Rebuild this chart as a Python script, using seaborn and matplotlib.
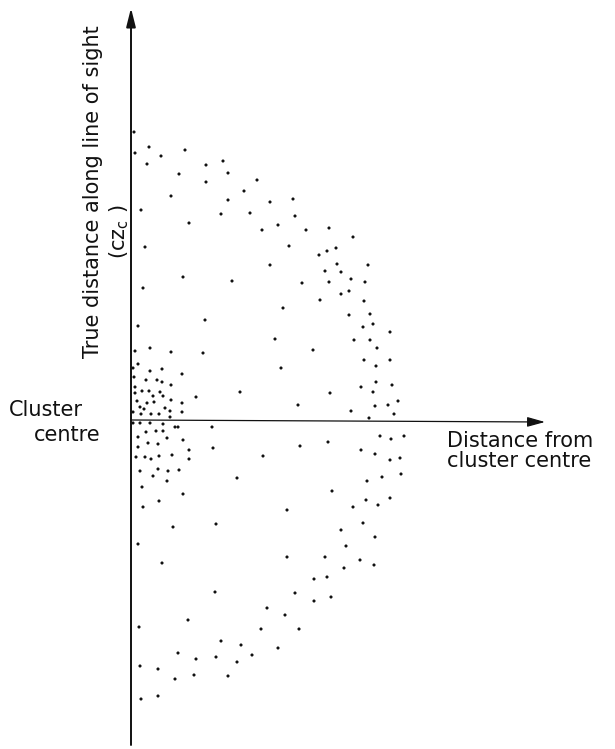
import matplotlib
matplotlib.use("Agg")
import matplotlib.pyplot as plt
import seaborn as sns
import pandas as pd

# Galaxy positions relative to the cluster centre
# (x = projected distance from centre, y = true distance along line of sight)
proj_dist = [
    # outer shell, in front of the centre
    3, 4, 18, 16, 30, 54, 48, 75, 92, 75, 97, 40, 126, 113, 97, 139, 162,
    10, 90, 119, 164, 58, 147, 131, 175, 198, 222, 14, 158, 188, 196, 205,
    139, 206, 237, 194, 210, 52, 101, 171, 198, 220, 234, 12, 210, 218, 189,
    233, 152, 218, 239, 74, 7, 232, 242, 259, 144, 223, 239, 4, 19, 40, 72,
    182, 246, 7, 233, 259, 51, 150, 245, 230, 245, 261, 109, 65, 199, 242,
    167, 220, 244, 257, 267, 263, 238,
    # core, in front
    19, 31, 15, 26, 31, 40, 2, 3, 11, 18, 22, 29, 32, 4, 4, 6, 16, 23, 40,
    51, 9, 13, 34, 51, 10, 20, 28, 39, 39, 2,
    # core, behind
    2, 9, 19, 32, 44, 47, 81, 7, 15, 25, 32, 17, 27, 36, 52, 7, 58, 82, 5,
    14, 20, 28, 41, 58, 9, 22, 27, 37, 48, 36, 11, 52, 12, 28,
    # outer shell, behind the centre
    132, 169, 197, 249, 260, 273, 230, 244, 259, 269, 106, 236, 251, 270,
    156, 201, 222, 235, 247, 259, 42, 85, 210, 232, 244, 7, 215, 31, 156,
    194, 213, 229, 243, 183, 196, 84, 164, 183, 200, 136, 154, 57, 8, 130,
    168, 90, 110, 47, 65, 85, 106, 121, 147, 9, 27, 44, 63, 97, 10, 27,
]
los_dist = [
    288, 267, 273, 256, 264, 270, 246, 255, 259, 238, 247, 224, 240, 229,
    220, 218, 221, 210, 206, 207, 204, 197, 195, 190, 190, 192, 183, 173,
    174, 165, 169, 172, 155, 156, 155, 149, 148, 143, 139, 137, 138, 141,
    138, 132, 126, 129, 120, 119, 112, 105, 106, 100, 94, 93, 96, 88, 81,
    80, 80, 69, 72, 68, 67, 70, 72, 56, 60, 60, 46, 52, 54, 33, 38, 35, 28,
    23, 27, 28, 15, 9, 14, 15, 19, 6, 2,
    49, 51, 40, 40, 38, 35, 52, 43, 29, 29, 24, 28, 24, 33, 27, 19, 17, 18,
    20, 17, 13, 11, 12, 8, 6, 6, 6, 9, 3, 8,
    -3, -3, -3, -4, -7, -7, -7, -17, -12, -11, -11, -23, -24, -18, -20, -27,
    -30, -28, -37, -37, -39, -36, -35, -39, -51, -56, -49, -51, -50, -61,
    -67, -74, -87, -81,
    -36, -26, -22, -16, -19, -16, -30, -34, -40, -38, -58, -61, -57, -54,
    -90, -71, -87, -80, -85, -78, -107, -104, -110, -103, -117, -124, -126,
    -143, -137, -137, -148, -140, -145, -159, -157, -172, -173, -181, -177,
    -188, -195, -200, -207, -209, -209, -221, -225, -233, -239, -237, -242,
    -235, -228, -246, -249, -259, -255, -256, -279, -276,
]

df = pd.DataFrame({"proj": proj_dist, "los": los_dist})

sns.set_style("white")
plt.rcParams["font.family"] = ["DejaVu Sans"]

fig = plt.figure(figsize=(6.15, 7.49), dpi=100)
ax = fig.add_axes([0, 0, 1, 1])

sns.scatterplot(data=df, x="proj", y="los", s=5, color="#111111",
                edgecolor="none", ax=ax, legend=False)

ax.set_xlim(-131, 484)
ax.set_ylim(-329, 420)
ax.axis("off")

# Axes drawn as arrows through the cluster centre
ax.annotate("", xy=(0, 412), xytext=(0, -325),
            arrowprops=dict(arrowstyle="-|>,head_width=0.2,head_length=0.8",
                            lw=1.4, color="#111111",
                            mutation_scale=14, shrinkA=0, shrinkB=0))
ax.annotate("", xy=(414, -2), xytext=(0, 0),
            arrowprops=dict(arrowstyle="-|>,head_width=0.25,head_length=0.9",
                            lw=0.9, color="#111111",
                            mutation_scale=12, shrinkA=0, shrinkB=0))

txt = dict(color="#111111", fontsize=15)
ax.text(-38, 228, "True distance along line of sight", rotation=90,
        ha="center", va="center", **txt)
ax.text(-12, 188, "(cz$_{\\rm c}$ )", rotation=90, ha="center", va="center", **txt)
ax.text(-85, 10, "Cluster", ha="center", va="center", **txt)
ax.text(-64, -15, "centre", ha="center", va="center", **txt)
ax.text(316, -31, "Distance from\ncluster centre", ha="left", va="center",
        multialignment="left", linespacing=1.05, **txt)

fig.savefig("out.png", dpi=100)
plt.close(fig)
